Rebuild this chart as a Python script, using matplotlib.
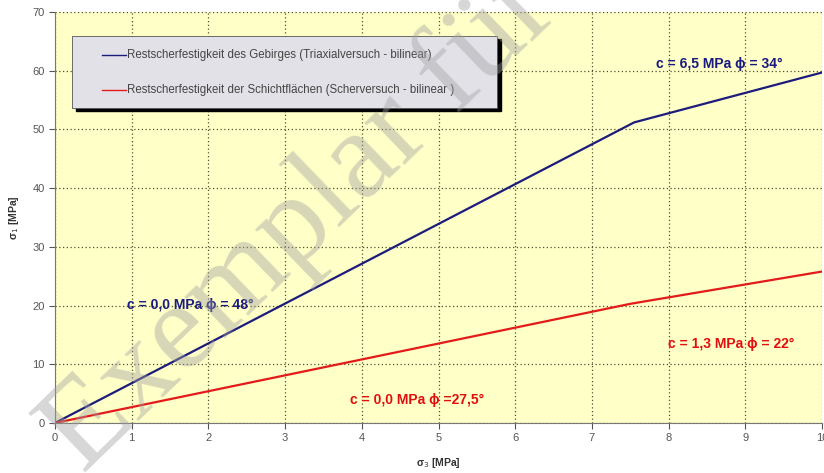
import matplotlib.pyplot as plt
from matplotlib.patches import Rectangle

plt.rcParams['font.family'] = ['Liberation Sans', 'DejaVu Sans']

# Gebirge (Triaxialversuch, bilinear)
sig3_geb = [0.0, 7.55, 10.0]
sig1_geb = [0.0, 51.2, 59.7]
# Schichtflächen (Scherversuch, bilinear)
sig3_sch = [0.0, 7.5, 10.0]
sig1_sch = [0.0, 20.3, 25.8]

labels = ['Restscherfestigkeit des Gebirges (Triaxialversuch - bilinear)',
          'Restscherfestigkeit der Schichtflächen (Scherversuch - bilinear )']
notes = ['c = 6,5 MPa \u03d5 = 34°', 'c = 0,0 MPa \u03d5 = 48°',
         'c = 1,3 MPa \u03d5 = 22°', 'c = 0,0 MPa \u03d5 =27,5°']
note_xy = [(8.66, 61.2), (1.77, 20.1), (8.81, 13.5), (4.72, 3.9)]
note_col = ['#1a1a80', '#1a1a80', '#e01010', '#e01010']

navy = '#1c1c7c'
red = '#e41a1a'

fig = plt.figure(figsize=(8.24, 4.73), dpi=100)
ax = fig.add_axes([0.0667, 0.1057, 0.931, 0.8689])
ax.set_facecolor('#ffffc8')

ax.plot(sig3_geb, sig1_geb, color=navy, lw=1.6, label=labels[0])
ax.plot(sig3_sch, sig1_sch, color=red, lw=1.6, label=labels[1])

ax.set_xlim(0, 10)
ax.set_ylim(0, 70)
ax.set_xticks(range(0, 11))
ax.set_yticks(range(0, 71, 10))
ax.grid(True, color='#505030', ls=(0, (1, 2)), lw=0.9)
ax.tick_params(labelsize=8, labelcolor='#555555', color='#555555', length=4)
for s in ['top', 'right']:
    ax.spines[s].set_visible(False)
for s in ['left', 'bottom']:
    ax.spines[s].set_color('#777777')

ax.set_xlabel('\u03c3$_3$ [MPa]', fontsize=7.5, fontweight='bold', color='#333333', labelpad=9)
ax.set_ylabel('\u03c3$_1$ [MPa]', fontsize=7.5, fontweight='bold', color='#333333', labelpad=8)

for t, (x, y), c in zip(notes, note_xy, note_col):
    ax.text(x, y, t, color=c, fontsize=10, fontweight='bold', ha='center', va='center')

# legend box with shadow
fig.patches.append(Rectangle((76 / 824, 1 - 111 / 473), 425 / 824, 72 / 473,
                             transform=fig.transFigure, color='black', zorder=5))
fig.patches.append(Rectangle((72 / 824, 1 - 108 / 473), 425 / 824, 72 / 473,
                             transform=fig.transFigure, facecolor='#e3e1e8',
                             edgecolor='#555555', lw=0.6, zorder=6))
for i, (lab, col) in enumerate(zip(labels, [navy, red])):
    yy = 1 - (55 + i * 35) / 473
    fig.add_artist(plt.Line2D([102 / 824, 126 / 824], [yy, yy], color=col, lw=1.0,
                              transform=fig.transFigure, zorder=7))
    fig.text(127 / 824, yy, lab, fontsize=8.3, color='#444444', va='center', zorder=7)

# watermark
fig.text(0.365, 0.53, 'Exemplar für', fontsize=90, family='Liberation Serif',
         color='#a0a0a0', alpha=0.42, rotation=44, ha='center', va='center', zorder=10)

fig.savefig('out.png', dpi=100)
